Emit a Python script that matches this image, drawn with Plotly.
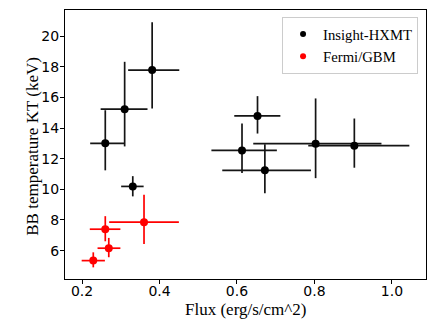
import plotly.graph_objects as go

# Insight-HXMT
hx_flux = [0.260, 0.310, 0.381, 0.331, 0.653, 0.613, 0.672, 0.803, 0.903]
hx_flux_lo = [0.039, 0.062, 0.062, 0.030, 0.060, 0.079, 0.110, 0.161, 0.119]
hx_flux_hi = [0.049, 0.059, 0.070, 0.028, 0.059, 0.090, 0.119, 0.170, 0.142]
hx_kt = [13.0, 15.23, 17.78, 10.19, 14.79, 12.54, 11.24, 12.98, 12.85]
hx_kt_lo = [1.76, 2.43, 2.51, 0.65, 1.15, 1.48, 1.49, 2.25, 1.44]
hx_kt_hi = [2.16, 3.09, 3.12, 0.67, 1.29, 1.75, 1.70, 2.95, 1.77]

# Fermi/GBM
gbm_flux = [0.229, 0.269, 0.260, 0.360]
gbm_flux_lo = [0.030, 0.029, 0.040, 0.090]
gbm_flux_hi = [0.030, 0.030, 0.039, 0.090]
gbm_kt = [5.35, 6.16, 7.40, 7.86]
gbm_kt_lo = [0.44, 0.59, 0.79, 1.42]
gbm_kt_hi = [0.54, 0.67, 0.85, 1.79]

series_names = ["Insight-HXMT", "Fermi/GBM"]
series_colors = ["black", "#ff0000"]
err_colors = ["#151515", "#ff0000"]

fig = go.Figure()
data_sets = [
    (hx_flux, hx_flux_lo, hx_flux_hi, hx_kt, hx_kt_lo, hx_kt_hi),
    (gbm_flux, gbm_flux_lo, gbm_flux_hi, gbm_kt, gbm_kt_lo, gbm_kt_hi),
]
for (fx, fxl, fxh, ky, kyl, kyh), name, col, ecol in zip(data_sets, series_names, series_colors, err_colors):
    fig.add_trace(go.Scatter(
        x=fx, y=ky, mode="markers", name=name, showlegend=False,
        marker=dict(color=col, size=8),
        error_x=dict(type="data", symmetric=False, array=fxh, arrayminus=fxl,
                     color=ecol, thickness=1.7, width=0),
        error_y=dict(type="data", symmetric=False, array=kyh, arrayminus=kyl,
                     color=ecol, thickness=1.7, width=0),
    ))
# legend entries with small dots
for name, col in zip(series_names, series_colors):
    fig.add_trace(go.Scatter(x=[None], y=[None], mode="markers", name=name,
                             marker=dict(color=col, size=6)))

axis_common = dict(
    showgrid=False, zeroline=False, showline=True, linecolor="black", linewidth=1,
    mirror=True, ticks="outside", ticklen=4, tickcolor="black", automargin=False,
    tickfont=dict(family="DejaVu Sans", size=14, color="black"),
)
fig.update_xaxes(range=[0.156, 1.088], tickvals=[0.2, 0.4, 0.6, 0.8, 1.0],
                 ticktext=["0.2", "0.4", "0.6", "0.8", "1.0"],
                 ticklabelstandoff=-5, **axis_common)
fig.update_yaxes(range=[4.15, 21.7], tickvals=[6, 8, 10, 12, 14, 16, 18, 20],
                 ticklabelstandoff=-2, **axis_common)

title_font = dict(family="Liberation Serif", size=17, color="black")
fig.add_annotation(text="Flux (erg/s/cm^2)", xref="paper", yref="paper",
                   x=0.5, y=-0.112, xanchor="center", yanchor="middle",
                   showarrow=False, font=title_font)
fig.add_annotation(text="BB temperature KT (keV)", xref="paper", yref="paper",
                   x=-0.089, y=0.495, xanchor="center", yanchor="middle",
                   textangle=-90, showarrow=False, font=title_font)

# page body has an 8px default margin, so the figure is sized/offset to compensate
fig.update_layout(
    width=428, height=319,
    margin=dict(l=57, r=10, t=2, b=48),
    plot_bgcolor="white", paper_bgcolor="white",
    legend=dict(x=0.978, y=0.974, xanchor="right", yanchor="top",
                bgcolor="white", bordercolor="#cccccc", borderwidth=1,
                font=dict(family="Liberation Serif", size=14.7, color="black"),
                tracegroupgap=0),
)
fig.write_html("out.html")
